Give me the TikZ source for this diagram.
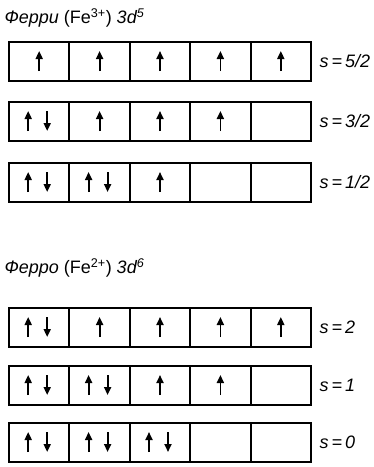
\documentclass[tikz,border=0pt]{standalone}
\usepackage{fontspec}
\setmainfont{Liberation Sans}
\usepackage{tikz}
\usetikzlibrary{positioning, calc, arrows.meta}

\begin{document}
\begin{tikzpicture}[x=1pt, y=1pt, cell/.style={draw, line width=2pt, minimum width=60.4pt, minimum height=39pt, inner sep=0pt}, spin/.style={line width=1.8pt, -{Triangle[length=8pt, width=7pt]}}, title/.style={anchor=west, font=\fontsize{18}{20}\selectfont}, lab/.style={anchor=west, font=\fontsize{18}{20}\itshape}]
      \useasboundingbox (0,0) rectangle (374,-467);
      \node[title] (ferri) at (1,-18) {{\itshape Ферри} (Fe\textsuperscript{3+}) {\itshape 3d\textsuperscript{5}}};
      \node[title] (ferro) at (1,-268) {{\itshape Ферро} (Fe\textsuperscript{2+}) {\itshape 3d\textsuperscript{6}}};

      \foreach \yc/\np/\ns/\lab [count=\r] in {61/0/5/{5/2}, 121/1/3/{3/2}, 182/2/1/{1/2}, 327/1/4/2, 385/2/2/1, 442/3/0/0} {
        \pgfmathtruncatemacro\m{\np+\ns}
        \foreach \i in {1,...,5} {
          \node[cell] (c\r-\i) at ({-21.2+60.4*\i}, -\yc) {};
          \ifnum\i>\np
            \ifnum\i>\m\else \draw[spin] ($(c\r-\i)+(0,-10)$) -- ++(0,20); \fi
          \else
            \draw[spin] ($(c\r-\i)+(-11,-10)$) -- ++(0,20);
            \draw[spin] ($(c\r-\i)+(8,10)$) -- ++(0,-20);
          \fi
        }
        \node[lab, right=4pt of c\r-5] (s\r) {s\,=\,\lab};
      }
    \end{tikzpicture}
\end{document}
